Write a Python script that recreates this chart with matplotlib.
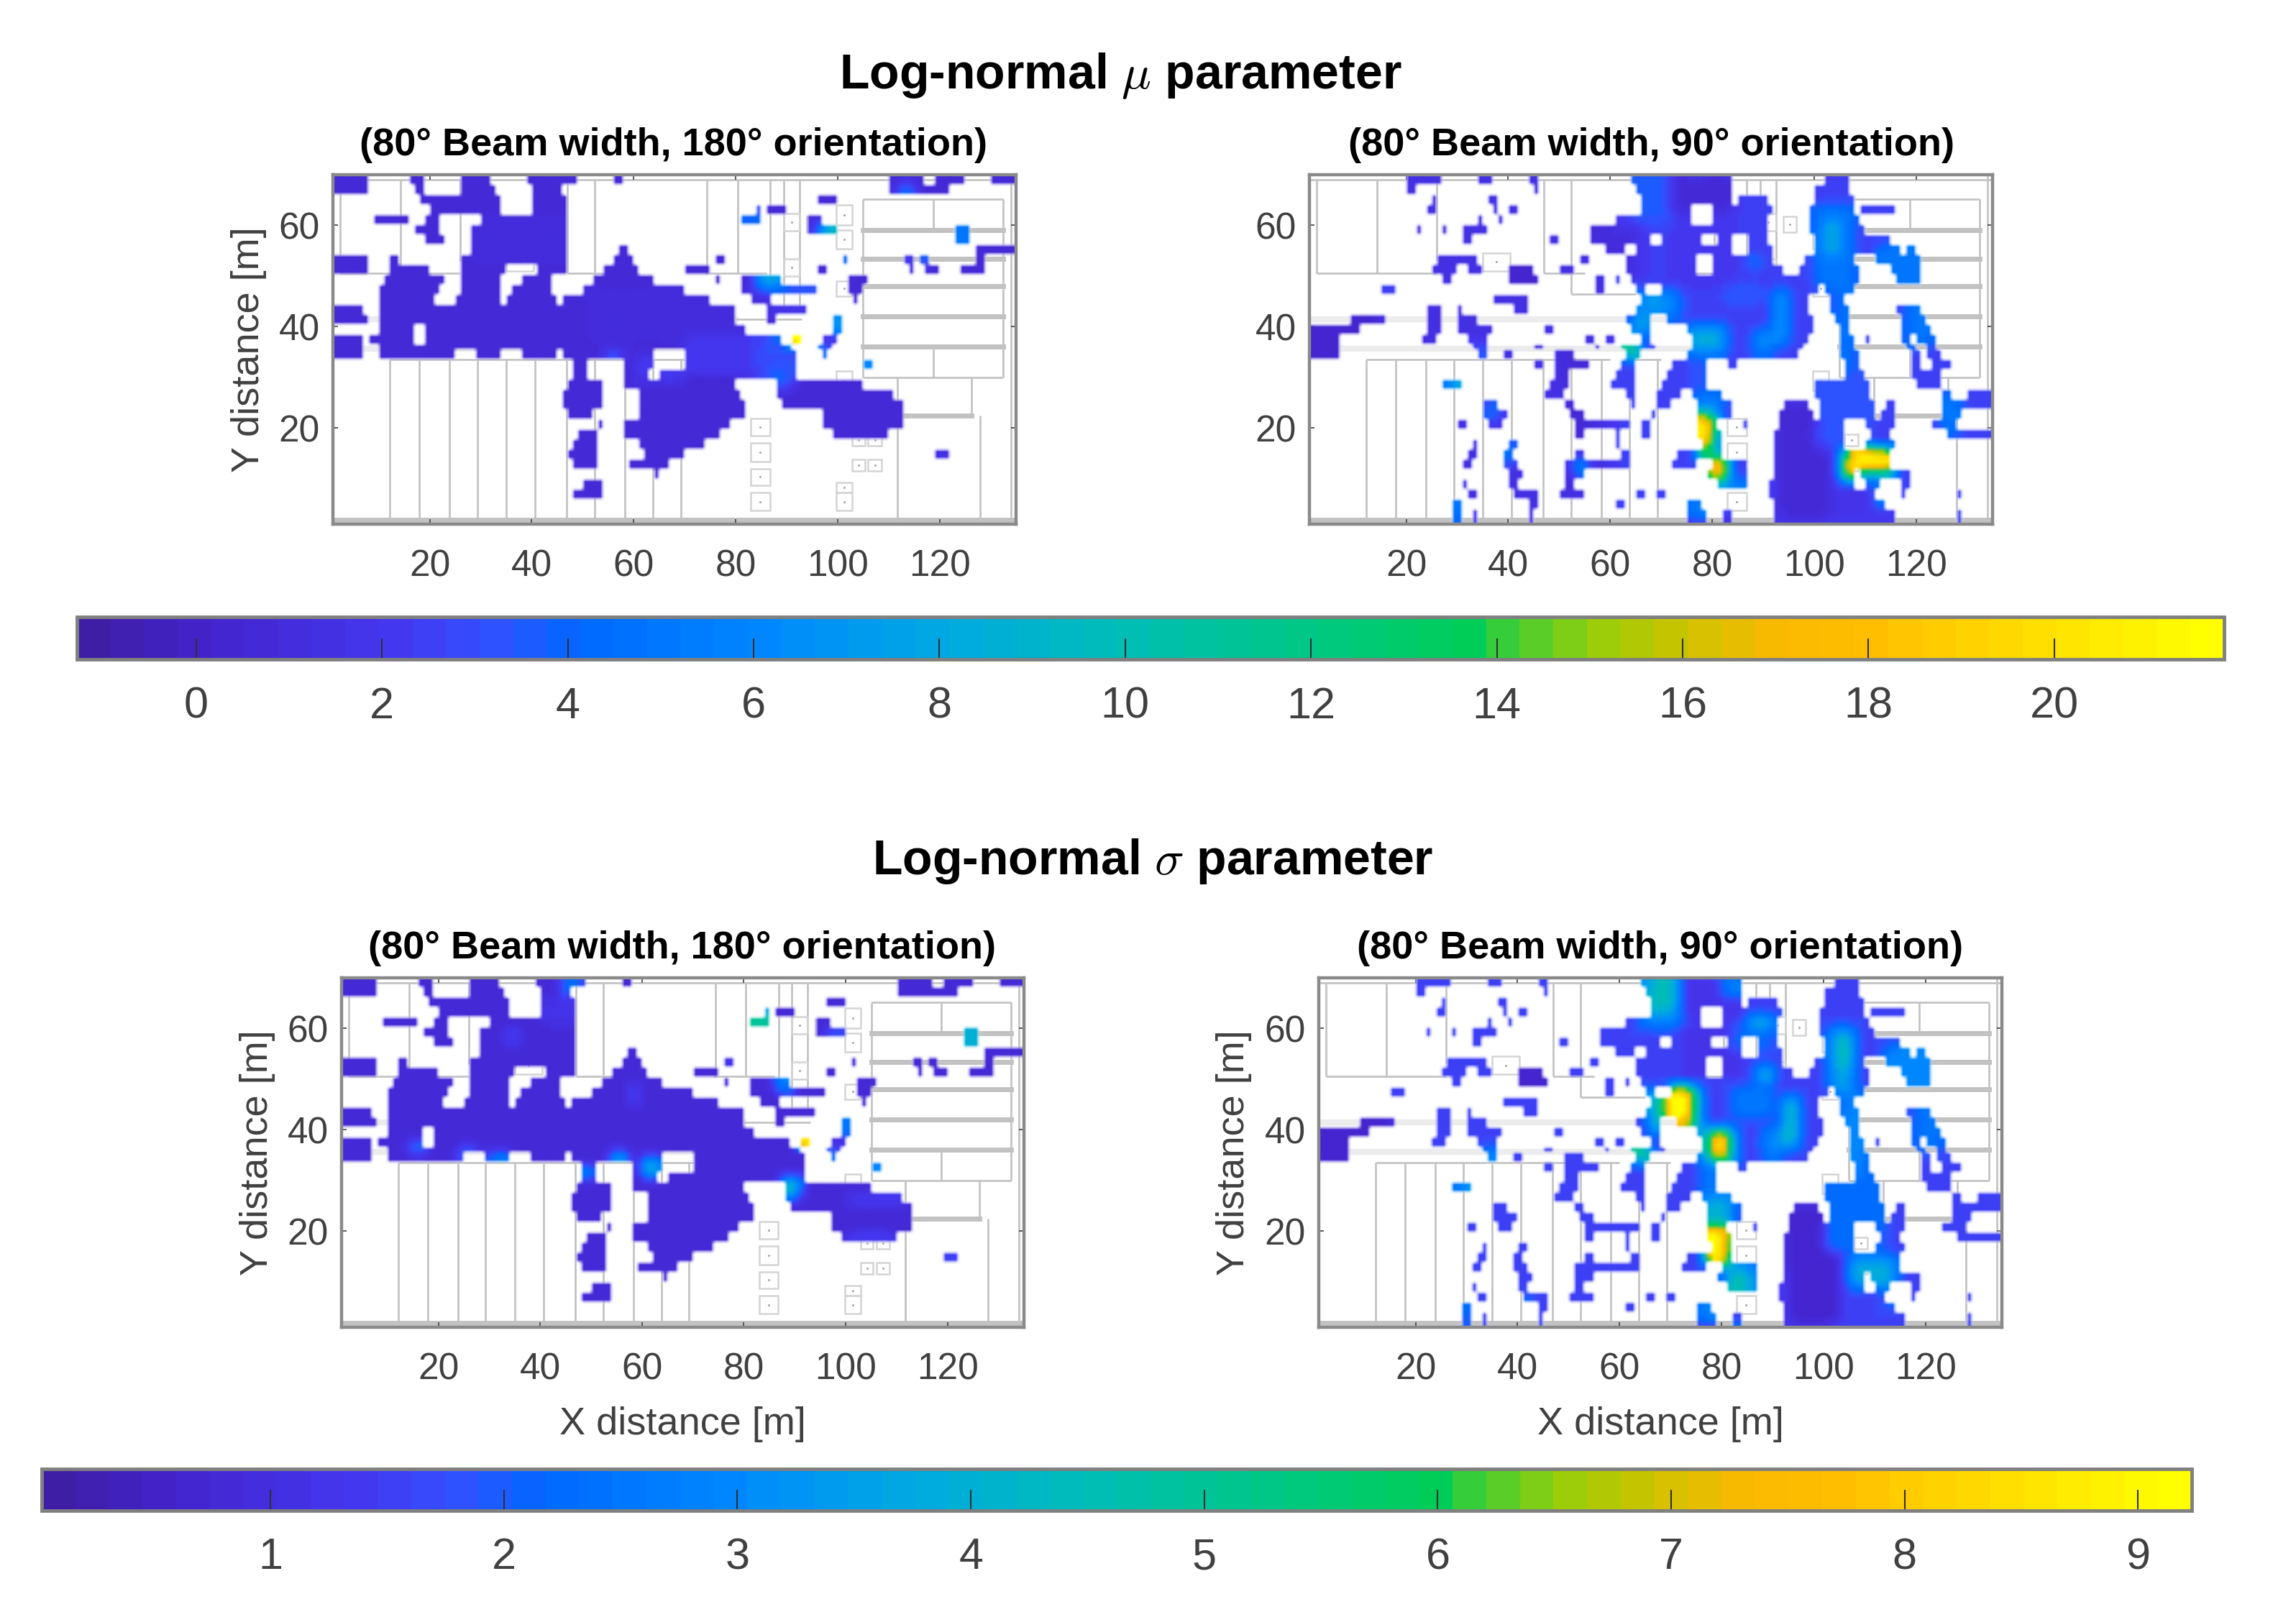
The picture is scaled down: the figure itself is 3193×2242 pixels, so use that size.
import matplotlib
matplotlib.use('Agg')
import matplotlib.pyplot as plt
import numpy as np
from matplotlib.colors import LinearSegmentedColormap
from matplotlib.cm import ScalarMappable
from matplotlib.colors import Normalize
from matplotlib.patches import Rectangle

plt.rcParams['font.family'] = ['Liberation Sans', 'DejaVu Sans']
plt.rcParams['mathtext.fontset'] = 'cm'

W, H = 3193, 2242

# colormap (position, rgb)
cmap_pos = [0, 0.056, 0.143, 0.187, 0.23, 0.317, 0.404, 0.491, 0.578, 0.656, 0.665, 0.709, 0.752, 0.796, 0.839, 0.926, 1]
cmap_rgb = [(62, 30, 165), (68, 36, 205), (68, 55, 240), (50, 80, 255), (0, 105, 255), (0, 135, 255),
            (0, 170, 225), (0, 190, 180), (0, 200, 130), (0, 205, 85), (50, 205, 60), (150, 205, 10),
            (205, 195, 0), (250, 185, 0), (255, 190, 0), (255, 225, 0), (255, 255, 0)]

mu_ticks = [0, 2, 4, 6, 8, 10, 12, 14, 16, 18, 20]
mu_range = (-1.285, 21.83)
sigma_ticks = [1, 2, 3, 4, 5, 6, 7, 8, 9]
sigma_range = (0.02, 9.23)

# covered x spans for each of the 35 rows, from y=70 downwards
rows_180 = [
    [(1, 8), (16.4, 18.8), (26, 31.5), (39.7, 48.5), (56.3, 57.2), (110.8, 116.9), (119.5, 125), (130.3, 135)],
    [(1, 8), (17.5, 19), (26, 33), (40, 46), (110.5, 116.9), (116, 120), (119.5, 122)],
    [(18.5, 33.5), (40.5, 47), (96.5, 100)],
    [(20, 33.5), (40, 47), (84, 85), (86.3, 90)],
    [(9.5, 16), (19.5, 21.5), (30, 47), (81, 85), (94.5, 96.5)],
    [(17, 21.5), (28.8, 47), (94.5, 99.5), (123, 125.7)],
    [(19.5, 22.5), (28, 47), (123, 125.7)],
    [(28, 47), (57, 58.3), (127.8, 135)],
    [(1, 8), (12, 14), (26.7, 47), (56.2, 59.4), (76.5, 77.5), (101, 102), (113.6, 114.5), (116.6, 117.5), (127.8, 129)],
    [(1, 8), (12.5, 19.5), (26, 35), (41, 47), (54.7, 61), (70.3, 75), (96.5, 97.5), (114, 115), (117.3, 120), (124.7, 129)],
    [(11, 22.5), (26, 33.5), (38, 44), (52.6, 64), (76, 77), (81.7, 89), (102.4, 106)],
    [(10, 21.5), (26, 33.5), (36.5, 44), (50.6, 70), (81.7, 96), (102.4, 105)],
    [(10, 21), (25.7, 34), (35.5, 44.3), (46.4, 74.4), (83.7, 86.3), (103.5, 104)],
    [(1, 7), (10, 80), (86.3, 94)],
    [(1, 7.5), (10, 80), (86.3, 88), (99, 100.8)],
    [(10, 17), (19.3, 81.7), (99.2, 100.2)],
    [(1, 6.5), (8.6, 17), (19.3, 89), (91.5, 93), (97, 99.5)],
    [(1, 6.5), (10, 91), (96.5, 98.5)],
    [(1, 7), (10, 25), (29.3, 34), (38, 44.3), (46, 48.5), (49.5, 63.5), (70.8, 91.5), (97, 98)],
    [(48.5, 51), (58.3, 63.5), (70.8, 91.5), (105.5, 107)],
    [(48, 51), (58.8, 63), (65, 92)],
    [(47, 54), (58.8, 80), (88, 104.5)],
    [(46.4, 54), (61.5, 80.5), (88.5, 110.7)],
    [(46.4, 54), (61, 81.7), (89, 112.7)],
    [(47, 51.5), (61, 81.7), (97, 112.7)],
    [(53, 54), (58.8, 79), (97, 112.2)],
    [(49.5, 53), (58.3, 76.5), (99.7, 110)],
    [(48.5, 53), (61.5, 74)],
    [(47.5, 53), (62, 69.7), (119, 122)],
    [(48.5, 53), (59.4, 67)],
    [(64, 65)],
    [(50.6, 54)],
    [(48.5, 54)],
    [],
    [],
]

rows_90 = [
    [(20, 26.8), (34, 37), (44, 46), (64.3, 83.7), (102.4, 107)],
    [(20, 22), (45, 46), (65, 83.7), (100.8, 107)],
    [(25, 26), (36, 37.6), (66, 83.7), (85.8, 91), (100.3, 107.5)],
    [(24.7, 25.7), (37, 37.6), (40.5, 41.8), (66.6, 76), (80.6, 91.5), (99, 108), (109.7, 116)],
    [(34, 35), (38, 39), (61.4, 76), (80.6, 91), (99, 108.5)],
    [(22.3, 23), (27.2, 28), (31.4, 35.5), (56.3, 90.5), (99.8, 109.7)],
    [(31.4, 32.5), (48, 49.8), (56.3, 67.9), (70, 78), (81, 84), (87.3, 90.5), (100, 114.8)],
    [(59, 63), (65, 84), (87.3, 91.5), (100, 116.3), (118.3, 119.5)],
    [(26, 33.5), (54.2, 55.7), (63.5, 77), (80, 92), (98.5, 108), (112, 120.5)],
    [(25, 29.5), (32.4, 34.5), (40, 45), (50, 52.6), (63.5, 77), (80, 93.5), (97.7, 109), (115.3, 120.9)],
    [(27.2, 28.3), (40, 46), (57.3, 58.8), (61, 61.8), (64, 102), (102.5, 108.5), (116.3, 120.9)],
    [(15.3, 18), (57.3, 58.8), (65.5, 66.2), (70.3, 101), (102.5, 108)],
    [(37, 43.8), (66.6, 99), (103.5, 106)],
    [(24.7, 27), (30.3, 31), (41.8, 43.8), (65.5, 98.7), (103.5, 107), (116, 121)],
    [(9, 15.9), (24.2, 27), (30.3, 33.5), (63.5, 68), (71.8, 99.3), (104.4, 107), (117.4, 122)],
    [(1, 10.7), (24.7, 26.2), (30.8, 36.5), (47.5, 48.3), (64, 68), (75.4, 99.8), (104.9, 107), (117.4, 122.6)],
    [(1, 7), (23, 25.7), (32.4, 35.5), (55.2, 56.8), (59.3, 60.2), (66, 67.7), (76, 98.7), (104.9, 107.5), (110.2, 111), (117.4, 118.5), (120.5, 123.6)],
    [(1, 7), (33, 35.5), (45.3, 46.2), (57, 58), (62.4, 65.5), (66.6, 68.7), (76.5, 97.2), (105.4, 108), (118, 120), (122, 124)],
    [(1, 6.5), (34.5, 35.5), (39.5, 40.5), (49.5, 52.6), (63.5, 65.5), (75.4, 96.7), (105.4, 108.5), (119.5, 120.5), (122.5, 124.6)],
    [(45.3, 46.2), (49.5, 55.2), (62, 65), (72.8, 78.5), (83.2, 84.8), (106, 108.5), (119.5, 120.5), (123, 126.7)],
    [(49.5, 52), (61.4, 64.5), (71.8, 78.5), (106.6, 109.5), (119.5, 124.6)],
    [(27.5, 30.8), (48, 51.5), (60.4, 64.5), (70.8, 75), (75.4, 79), (100, 110.5), (120.5, 124.6)],
    [(47, 51), (63.5, 64.5), (69.7, 73.3), (76.5, 81.6), (100.8, 111), (125, 126.7), (130.4, 135)],
    [(35.5, 38), (51, 53), (64, 64.8), (69.7, 71.3), (77, 83.2), (94, 99), (101.5, 112), (114.3, 116), (125, 135)],
    [(35, 39.7), (52.6, 55), (68, 69), (77.5, 83.7), (93, 100), (101, 111.7), (113.7, 116), (125.5, 128.8)],
    [(30.8, 31.7), (36.5, 38.6), (53, 63.5), (66.6, 68), (77.5, 80.6), (86, 86.7), (93, 101.5), (101.8, 106), (110.5, 116), (123, 127.7)],
    [(53.5, 54.7), (61.4, 62), (66, 67.7), (77.5, 81.6), (92.5, 106), (111, 115), (126.2, 135)],
    [(33, 33.5), (40, 41.8), (61.4, 62), (78, 82), (92.5, 106), (110.5, 116)],
    [(32, 34), (39, 41), (53, 55), (62, 63.5), (73.3, 77.5), (78.5, 81.6), (92, 115)],
    [(31.4, 33), (39, 41.8), (51, 64), (72.8, 77), (80.6, 86.8), (92, 115)],
    [(40, 42.8), (51, 55), (79.5, 86.2), (92.5, 107.5), (109.7, 119)],
    [(31, 32), (40.5, 41.5), (51, 53), (81.6, 86.2), (91.5, 107.5), (110, 113), (117, 118.5)],
    [(32.5, 33.5), (41.3, 46), (50, 55), (65.5, 66.5), (69.7, 70.7), (91.5, 112), (117.3, 118), (128, 129)],
    [(29.3, 30.8), (44, 45.3), (61.2, 62.2), (75.4, 77.5), (92, 113.5)],
    [(29.3, 30.8), (33, 34), (44.3, 45), (75.4, 78.5), (82, 83.7), (92, 116), (128, 129)],
]

# value patches painted in order: x0, x1, y0, y1, value
mu_180_base = 0.6
mu_180_values = [
    (28, 47, 52, 62, 1.2), (50, 90, 36, 48, 1.0), (70, 92, 30, 38, 2.2), (60, 70, 28, 34, 2.2), (84, 92, 29, 37, 3.0),
    (87, 91, 27, 31, 4.0), (90.5, 93.5, 36, 40.5, 24), (88, 90, 36, 38, 7), (54, 58, 33, 35, 3.5),
    (81, 85, 59, 63, 4.0), (84, 90, 47, 51, 8), (88, 96, 47, 49, 6), (96, 99.5, 58, 60, 9), (123, 125.7, 56, 60, 5),
    (99, 101, 39, 43, 6), (99, 100, 38, 40, 12), (96.5, 98, 34, 36, 7), (105.5, 107, 31, 34, 6), (112, 115, 66, 68, 6),
    (119, 122, 12, 16, 1.5), (113.6, 118, 52, 54, 4), (101, 102, 52, 54, 4), (86, 94, 42, 44, 1.8),
]
mu_90_base = 2.4
mu_90_values = [
    (1, 15, 30, 42, 0.4), (20, 60, 1, 70, 1.4), (40, 46, 46, 52, 0.3), (51, 56, 8, 36, 0.8), (72, 84, 62, 70, 0.8),
    (64, 72, 60, 70, 3.5), (56, 66, 50, 60, 1.2), (72, 84, 48, 60, 2.0), (93, 103, 1, 24, 0.6), (103, 115, 1, 7, 1.8),
    (100, 108, 47, 64, 5), (102, 105, 54, 61, 8.5), (104, 108, 30, 47, 4.5), (87, 90, 51, 54, 4.5), (82, 90, 44, 48, 3.5),
    (65, 74, 41, 47, 5.5), (67, 71, 43, 46, 7.5), (75, 83, 34, 40, 7), (77, 81, 36, 38, 9.5), (92, 95, 36, 47, 7),
    (88, 92, 34, 39, 6), (76, 79, 26, 34, 3.5), (77, 82, 21, 26, 6), (77, 81, 13, 22, 9), (77, 80, 15, 22, 21),
    (78.5, 80, 12, 16, 16), (80.5, 83, 9, 13, 21), (81, 87, 7, 9, 6), (100, 112, 15, 30, 3.2), (105, 116, 9, 15, 8),
    (108.5, 115, 11.5, 15, 22), (106.5, 108.5, 9, 13.5, 21), (112, 114, 4, 8, 12), (76, 79, 1, 5, 6), (28, 31, 27, 29, 8),
    (29, 31, 1, 5, 5), (62, 66, 33, 36, 11), (65, 67, 38, 42, 10), (36, 38, 21, 24, 6), (33, 35, 32, 36, 5),
    (125, 129, 18, 26, 5), (118, 123, 35, 44, 5), (112, 122, 48, 56, 5), (53, 55, 10, 13, 8), (39, 41, 12, 17, 5),
]
sigma_180_base = 0.75
sigma_180_values = [
    (33, 36, 56, 60, 1.7), (44, 48, 66, 70, 2.4), (40, 48, 60, 66, 1.2), (57, 60, 44, 49, 1.5), (14, 18, 35, 37, 3),
    (24, 28, 33.5, 36, 3), (30, 35, 33, 35, 3), (54, 57, 33, 35, 4.5), (60, 63, 30, 34, 4.5), (87, 91, 26, 30, 4.5),
    (81, 85, 59, 63, 5), (90.5, 93, 36.5, 39.5, 9), (123, 125.7, 56, 60, 4), (48, 50, 30, 32, 4.5), (86, 90, 47, 50, 3),
    (96, 99, 58, 60, 2), (76, 77, 50, 53, 3), (97, 98, 34, 36, 4), (105.5, 107, 31, 34, 3), (99, 101, 38, 42, 2.5),
    (100, 112, 17, 19, 1.6), (100, 112, 24, 27, 1.4), (118, 122, 12, 16, 1.5),
]
sigma_90_base = 1.6
sigma_90_values = [
    (1, 15, 30, 42, 0.6), (20, 60, 1, 70, 1.5), (40, 46, 46, 52, 0.7), (72, 84, 62, 70, 1.2), (64, 72, 60, 70, 3),
    (66, 71, 63, 70, 4.5), (72, 84, 50, 60, 1.2), (80, 86, 66, 70, 2.8), (93, 103, 1, 24, 0.6), (103, 115, 1, 7, 1.6),
    (85, 90, 60, 62, 4.5), (82, 90, 55, 60, 2.2), (87, 90, 49, 52, 4.5), (101, 106, 47, 60, 3.5), (103, 105, 52, 58, 5),
    (82, 90, 42, 48, 2.6), (92, 95, 36, 46, 4.5), (88, 92, 34, 40, 3), (66, 76, 39, 48, 4.5), (69, 74, 41.5, 48, 9.5),
    (76, 83, 33, 40, 4), (78, 80.5, 34, 39, 9.5), (76, 79, 26, 33, 2.6), (77, 82, 19, 26, 4), (77.5, 80.5, 12, 20, 9.5),
    (81, 86, 7, 12, 4.5), (100, 112, 15, 30, 2.3), (105, 114, 8, 14, 3.8), (112, 114, 4, 8, 3), (76, 79, 1, 5, 3),
    (28, 31, 27, 29, 3.2), (29, 31, 1, 5, 2.2), (62, 66, 33, 36, 5), (33, 36, 32, 36, 3), (40, 43, 3, 6, 3),
    (104, 108, 30, 47, 3), (118, 123, 35, 44, 2.5), (112, 122, 48, 56, 3),
]

# floor plan, same in all panels
plan_rooms_x = [12.2, 17.9, 23.9, 29.3, 35, 40.7, 46.9, 52.4, 58.3, 63.8, 69.2]
plan_top_x = [2.4, 14.3, 26, 47, 52.4, 74.4, 80.4, 86.8, 89.4, 92.5]
plan_top_y0 = [50.5, 50.5, 53, 50.5, 46.4, 50.5, 50.5, 47, 44, 44]
plan_thin_h = [(2.4, 26, 50.5), (47, 55, 50.5), (74, 86, 50.5), (52.4, 65, 46.4), (12.2, 60, 33.5), (63, 70, 33.5),
               (80, 93, 41.5), (105, 132.5, 65.2), (105, 132.5, 30), (1, 135, 69)]
plan_thin_v = [(105, 30, 65.2), (132.5, 30, 65.2), (118.8, 59, 65.2), (118.8, 30, 36), (111.7, 1, 30), (126.2, 22.5, 30),
               (128, 1, 22.5), (134, 1, 70)]
plan_thick_h = [(105, 132.5, 59), (105, 132.5, 53.4), (105, 132.5, 48), (105, 132.5, 42), (105, 132.5, 36),
                (111.7, 126.2, 22.5), (1, 135, 1.8)]
plan_band_h = [(1, 77, 35.7), (1, 80, 41.5)]
plan_boxes = [(83, 18.4, 3.7, 3.5), (83, 13.4, 3.7, 3.6), (83, 8.6, 3.7, 3.4), (83, 3.7, 3.7, 3.5),
              (99.8, 3.7, 3.1, 3.5), (99.8, 7.2, 3.1, 2), (99.8, 27.4, 3.1, 3.8), (99.8, 46, 3.1, 3), (99.8, 55.4, 3.1, 3.6),
              (99.8, 60, 3.1, 4), (89.4, 58.9, 3.1, 3.4), (89.4, 50, 3.1, 3.4), (94, 58.6, 2.5, 3.1),
              (102.9, 16.5, 2.5, 2.2), (106, 16.5, 2.6, 2.2), (102.9, 11.5, 2.5, 2.3), (106, 11.5, 2.6, 2.3),
              (35, 51, 5.4, 3.5)]

cells_x = np.arange(1.5, 135, 1.0)
cells_y = np.arange(69.5, 0, -1.0)
row_edges = np.linspace(70, 1, 36)


def build_grid(rows, base, values):
    vals = np.full((len(cells_y), len(cells_x)), float(base))
    for x0, x1, y0, y1, v in values:
        sel_y = (cells_y >= y0) & (cells_y <= y1)
        sel_x = (cells_x >= x0) & (cells_x <= x1)
        vals[np.ix_(sel_y, sel_x)] = v
    mask = np.zeros(vals.shape, dtype=bool)
    for j, row in enumerate(rows):
        sel_y = (cells_y <= row_edges[j]) & (cells_y > row_edges[j + 1])
        if j == len(rows) - 1:
            sel_y = cells_y <= row_edges[j]
        for x0, x1 in row:
            sel_x = (cells_x >= x0 - 0.3) & (cells_x <= x1 + 0.3)
            mask[np.ix_(sel_y, sel_x)] = True
    # smooth values inside the covered area only
    for k in range(2):
        num = np.where(mask, vals, 0.0)
        den = mask.astype(float)
        num2 = np.zeros_like(num)
        den2 = np.zeros_like(den)
        for dy in (-1, 0, 1):
            for dx in (-1, 0, 1):
                num2 += np.roll(np.roll(num, dy, 0), dx, 1)
                den2 += np.roll(np.roll(den, dy, 0), dx, 1)
        vals = np.where(den2 > 0, num2 / np.maximum(den2, 1), base)
    return np.ma.masked_where(~mask, vals)


def draw_plan(ax):
    thin = dict(color='#c4c4c4', lw=2.0, zorder=1, solid_capstyle='butt')
    for x in plan_rooms_x:
        ax.plot([x, x], [1.5, 33.5], **thin)
    for x, y0 in zip(plan_top_x, plan_top_y0):
        ax.plot([x, x], [y0, 69], **thin)
    for x0, x1, y in plan_thin_h:
        ax.plot([x0, x1], [y, y], **thin)
    for x, y0, y1 in plan_thin_v:
        ax.plot([x, x], [y0, y1], **thin)
    for x0, x1, y in plan_band_h:
        ax.plot([x0, x1], [y, y], color='#ececec', lw=6, zorder=0.9)
    for x0, x1, y in plan_thick_h:
        ax.plot([x0, x1], [y, y], color='#c2c2c2', lw=5, zorder=1)
    for x0, y0, w, h in plan_boxes:
        ax.add_patch(Rectangle((x0, y0), w, h, fill=False, ec='#d4d4d4', lw=1.8, zorder=1))
        ax.plot(x0 + w / 2, y0 + h / 2, '.', color='#aaaaaa', ms=2.5, zorder=1)


def px_axes(fig, l, r, t, b):
    return fig.add_axes([l / W, 1 - b / H, (r - l) / W, (b - t) / H])


def panel(fig, box, rows, base, values, norm, title, title_x, title_y, ylabel=None, ylabel_x=0, xlabel=False):
    ax = px_axes(fig, *box)
    draw_plan(ax)
    grid = build_grid(rows, base, values)
    ax.imshow(grid, cmap=parula_like, norm=norm, extent=(1, 135, 1, 70), aspect='auto', origin='upper',
              interpolation='bilinear', interpolation_stage='rgba', zorder=2)
    ax.set_xlim(1, 135)
    ax.set_ylim(1, 70)
    ax.set_xticks([20, 40, 60, 80, 100, 120])
    ax.set_yticks([20, 40, 60])
    ax.tick_params(direction='in', length=5, width=1.2, colors='#404040', labelsize=37, top=True, right=True)
    ax.tick_params(axis='x', pad=25)
    ax.tick_params(axis='y', pad=13)
    for s in ax.spines.values():
        s.set_linewidth(3.2)
        s.set_color('#8a8a8a')
        s.set_zorder(5)
    fig.text(title_x / W, 1 - (title_y + 4) / H, title, ha='center', va='center', fontsize=39, fontweight='bold', color='black')
    mid_y = (box[2] + box[3]) / 2
    if ylabel:
        fig.text(ylabel_x / W, 1 - mid_y / H, ylabel, rotation=90, ha='center', va='center', fontsize=39, color='#404040')
    if xlabel:
        fig.text((box[0] + box[1]) / 2 / W, 1 - 1981 / H, 'X distance [m]', ha='center', va='center', fontsize=39, color='#404040')
    return ax


def colorbar(fig, box, norm, ticks):
    cax = px_axes(fig, *box)
    sm = ScalarMappable(norm=norm, cmap=parula_like)
    cb = fig.colorbar(sm, cax=cax, orientation='horizontal', ticks=ticks)
    cb.ax.tick_params(direction='in', length=21, width=1.5, color='#303030', labelcolor='#404040', labelsize=44, pad=27)
    cb.outline.set_edgecolor('#808080')
    cb.outline.set_linewidth(3.5)


parula_like = LinearSegmentedColormap.from_list(
    'beam', [(p, tuple(c / 255 for c in rgb)) for p, rgb in zip(cmap_pos, cmap_rgb)], N=64)
parula_like.set_bad((1, 1, 1, 0))

mu_norm = Normalize(*mu_range)
sigma_norm = Normalize(*sigma_range)

fig = plt.figure(figsize=(W / 100, H / 100), dpi=100, facecolor='white')

panel(fig, (463, 1413, 243, 729), rows_180, mu_180_base, mu_180_values, mu_norm,
      '(80° Beam width, 180° orientation)', 937, 198, 'Y distance [m]', 346)
panel(fig, (1821, 2771, 243, 729), rows_90, mu_90_base, mu_90_values, mu_norm,
      '(80° Beam width, 90° orientation)', 2297, 198)
panel(fig, (475, 1424, 1360, 1846), rows_180, sigma_180_base, sigma_180_values, sigma_norm,
      '(80° Beam width, 180° orientation)', 949, 1315, 'Y distance [m]', 358, True)
panel(fig, (1834, 2784, 1360, 1846), rows_90, sigma_90_base, sigma_90_values, sigma_norm,
      '(80° Beam width, 90° orientation)', 2309, 1315, 'Y distance [m]', 1716, True)

colorbar(fig, (107, 3093, 858, 917), mu_norm, mu_ticks)
colorbar(fig, (58, 3048, 2043, 2101), sigma_norm, sigma_ticks)

fig.text(1558 / W, 1 - 106 / H, r'Log-normal $\mu$ parameter', ha='center', va='center', fontsize=49, fontweight='bold')
fig.text(1603 / W, 1 - 1198 / H, r'Log-normal $\sigma$ parameter', ha='center', va='center', fontsize=49, fontweight='bold')

fig.savefig('out.png', dpi=100)
